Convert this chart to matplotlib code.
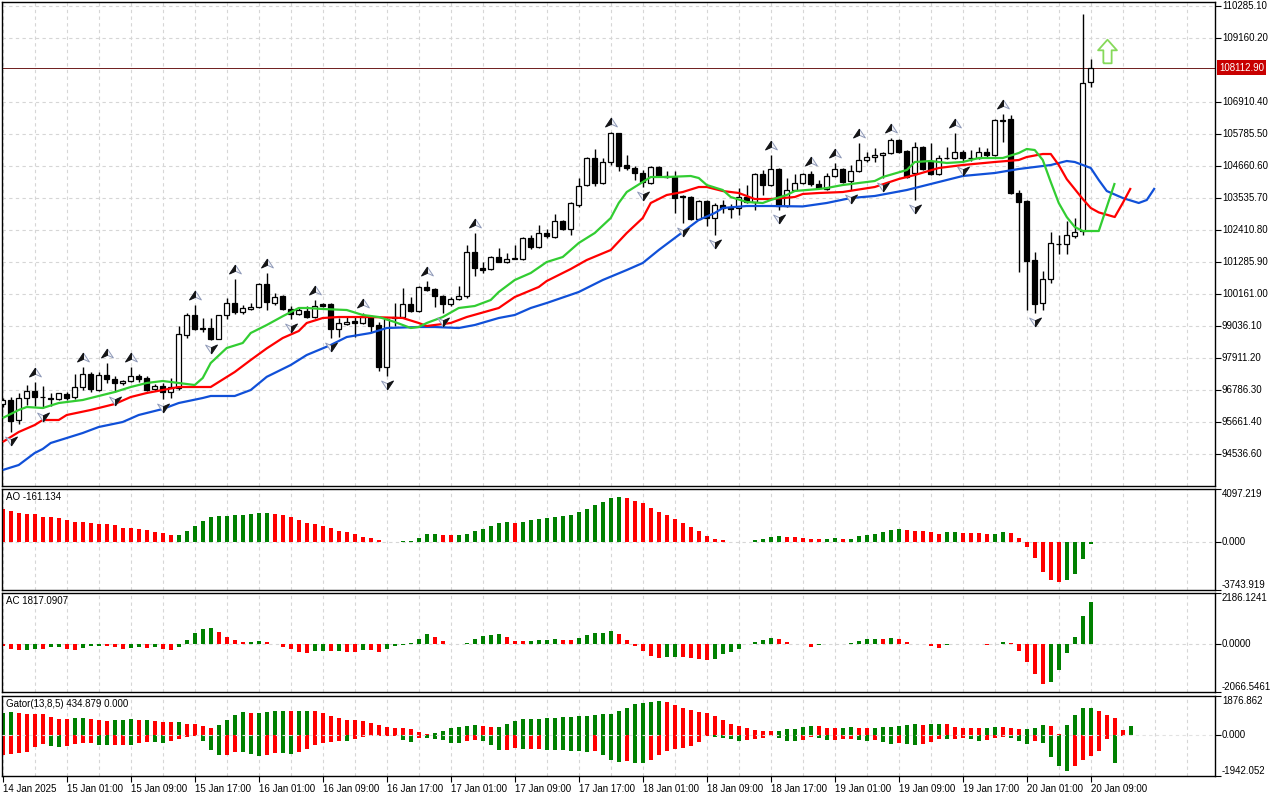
import matplotlib
matplotlib.use("Agg")
import matplotlib.pyplot as plt
import matplotlib.transforms as mtransforms
import numpy as np

plt.rcParams['font.family'] = ['Liberation Sans', 'DejaVu Sans']

# ---------------- data (hourly BTC candles) ----------------
open_px = [96295, 96436, 95733, 96506, 96752, 96541, 96506, 96471, 96647, 96541,
           96893, 97350, 96787, 97315, 97174, 97034, 97104, 97280, 97209, 96823,
           96928, 96717, 96858, 98721, 99424, 98967, 98967, 98580, 99424, 99846,
           99529, 99635, 99705, 100513, 99846, 100092, 99635, 99459, 99564, 99353,
           99810, 99810, 98932, 99125, 99213, 99143, 99353, 99072, 97596, 99318,
           99353, 99810, 99564, 100408, 100338, 100092, 99810, 99986, 100092, 101638,
           101076, 101041, 101462, 101287, 101392, 101392, 102130, 101814, 102306, 102165,
           102728, 102447, 103290, 103993, 104942, 104064, 104802, 105821, 104696, 104591,
           104415, 104064, 104626, 104310, 104274, 103607, 103571, 102798, 103431, 102833,
           103290, 103220, 103185, 103571, 103396, 104380, 103993, 104556, 103255, 103817,
           104064, 104380, 104028, 103853, 104310, 104556, 104134, 104485, 104872, 104977,
           105048, 105118, 105575, 105188, 104415, 105329, 104837, 104380, 104942, 104942,
           105153, 104942, 104942, 105153, 105048, 106278, 106313, 103712, 103431, 101357,
           99846, 100689, 101919, 101919, 102201, 102376, 107614]
high_px = [96506, 96541, 96682, 96963, 97069, 96928, 96682, 96682, 96717, 97350,
           97596, 97420, 97420, 97737, 97280, 97139, 97596, 97350, 97280, 96998,
           97034, 97209, 99037, 99494, 99775, 99318, 99318, 99424, 100021, 100689,
           99775, 99846, 100549, 100900, 100197, 100127, 99740, 99670, 99740, 99951,
           99846, 99846, 99318, 99389, 99353, 99494, 99424, 99178, 99318, 99846,
           100373, 100056, 100443, 100619, 100373, 100127, 100056, 100443, 101884, 102306,
           101287, 101498, 101779, 101603, 101884, 102165, 102236, 102587, 102447, 102974,
           102763, 103396, 104239, 104977, 105259, 104942, 105856, 105821, 105048, 104661,
           104520, 104661, 104661, 104485, 104485, 103642, 103607, 103466, 103466, 103361,
           103466, 103325, 103888, 103993, 104415, 104520, 105048, 104591, 104239, 104380,
           104415, 104485, 104169, 104415, 104767, 104591, 104696, 105470, 105153, 105294,
           105153, 105645, 105610, 105223, 105505, 105364, 105470, 105048, 105329, 105821,
           105223, 105223, 105329, 105294, 106313, 106489, 106454, 103817, 103466, 101638,
           100970, 102341, 102236, 102728, 102833, 110004, 108422]
low_px = [96190, 95311, 95592, 96260, 96225, 96155, 96225, 96436, 96436, 96471,
          96787, 96717, 96752, 97034, 96717, 96963, 97069, 97069, 96752, 96752,
          96471, 96506, 96787, 98615, 98896, 98826, 98545, 98580, 99283, 99459,
          99459, 99599, 99670, 99599, 99775, 99599, 99283, 99424, 99318, 99318,
          99705, 98615, 98650, 99072, 98650, 99107, 98826, 97455, 97280, 99037,
          99318, 99529, 99529, 100267, 99705, 99494, 99740, 99951, 100021, 100795,
          100900, 101005, 101287, 101252, 101375, 101357, 101744, 101779, 102130, 102130,
          102411, 102236, 103220, 103958, 103958, 104028, 104696, 104485, 104520, 104169,
          103923, 104028, 104274, 104239, 103009, 102658, 102763, 102763, 102552, 102236,
          103009, 102833, 102939, 103361, 103114, 103642, 103958, 103114, 103220, 103782,
          104028, 103958, 103853, 103817, 104274, 104064, 103817, 104450, 104802, 104802,
          104239, 105083, 105118, 104239, 103466, 104520, 104345, 104345, 104907, 104907,
          104802, 104837, 104907, 104977, 105013, 105505, 103677, 100935, 99599, 99494,
          99599, 100549, 101568, 101568, 102130, 102236, 107438]
close_px = [96436, 95698, 96506, 96752, 96541, 96524, 96471, 96682, 96506, 96893,
            97350, 96823, 97315, 97174, 97034, 97104, 97280, 97174, 96787, 96928,
            96717, 96893, 98756, 99424, 98932, 98949, 98580, 99424, 99846, 99529,
            99670, 99705, 100513, 99881, 100056, 99635, 99459, 99599, 99353, 99740,
            99740, 98932, 99143, 99178, 99143, 99353, 99037, 97596, 99283, 99353,
            99810, 99564, 100408, 100302, 100092, 99810, 99986, 100092, 101638, 101076,
            101005, 101462, 101287, 101392, 101410, 102130, 101814, 102306, 102201, 102728,
            102447, 103361, 103958, 104942, 104064, 104802, 105821, 104661, 104591, 104415,
            104099, 104626, 104310, 104274, 103536, 103571, 102798, 103431, 102833, 103290,
            103185, 103150, 103571, 103396, 104380, 103993, 104556, 103255, 103817, 104064,
            104380, 104028, 103888, 104310, 104556, 104099, 104485, 104872, 104977, 105048,
            105118, 105575, 105153, 104274, 105329, 104556, 104380, 104942, 104925, 105153,
            104942, 104925, 105153, 105048, 106278, 106260, 103712, 103396, 101322, 99810,
            100689, 101955, 101930, 102236, 102341, 107579, 108112.9]

# Alligator (bar index, value) readings
jaw_bar = [0, 2, 4, 5, 6, 8, 10, 12, 15, 17, 20, 22, 25, 26, 29, 31, 33, 36, 38, 41,
           43, 46, 48, 52, 54, 57, 59, 62, 64, 66, 68, 72, 75, 78, 80, 82, 85, 87, 89, 90,
           93, 96, 100, 103, 106, 109, 113, 118, 120, 124, 127, 129, 131, 133, 134, 136,
           137, 138, 140, 142, 143, 144]
jaw_val = [93975, 94151, 94574, 94714, 94925, 95100, 95276, 95487, 95663, 95909,
           96120, 96330, 96506, 96577, 96577, 96787, 97250, 97666, 98018, 98369,
           98650, 98791, 98967, 99002, 99002, 98967, 99072, 99318, 99424, 99670,
           99846, 100232, 100654, 101005, 101252, 101708, 102341, 102763, 103009, 103185,
           103255, 103255, 103240, 103361, 103536, 103607, 103817, 104169, 104310, 104415,
           104556, 104626, 104696, 104837, 104802, 104591, 104169, 103782, 103536, 103361,
           103466, 103888]
teeth_bar = [0, 2, 4, 5, 7, 8, 11, 14, 16, 18, 20, 22, 26, 27, 29, 31, 33, 35, 37, 38,
             40, 42, 46, 50, 52, 53, 56, 58, 62, 64, 67, 68, 71, 73, 76, 78, 80, 81, 83, 85,
             87, 88, 90, 92, 94, 96, 99, 100, 102, 105, 109, 112, 114, 117, 120, 124, 127,
             128, 130, 131, 132, 133, 135, 136, 137, 139, 140, 141]
teeth_val = [94960, 95311, 95557, 95733, 95733, 95909, 96085, 96295, 96541, 96682,
             96787, 96893, 96893, 97069, 97420, 97842, 98250, 98615, 98861, 99143,
             99318, 99353, 99353, 99318, 99143, 99037, 99143, 99353, 99670, 100056,
             100408, 100619, 101041, 101357, 101708, 102306, 102833, 103361, 103642, 103747,
             103923, 103923, 103782, 103712, 103501, 103501, 103571, 103677, 103712, 103747,
             103923, 104204, 104345, 104591, 104696, 104802, 104872, 104977, 105083, 105083,
             104696, 104200, 103500, 103185, 103030, 102868, 103361, 103888]
lips_bar = [0, 2, 3, 5, 7, 10, 12, 14, 16, 18, 20, 23, 24, 25, 26, 28, 30, 31, 33, 35,
            37, 38, 40, 43, 45, 47, 49, 51, 52, 53, 55, 57, 59, 61, 62, 64, 66, 68, 70, 72,
            74, 76, 77, 78, 80, 81, 83, 86, 87, 88, 90, 91, 93, 95, 96, 98, 99, 102, 103, 105,
            109, 110, 113, 114, 116, 118, 120, 122, 125, 127, 128, 129, 130, 131, 132, 133,
            134, 135, 137, 138, 139]
lips_val = [95803, 96085, 96190, 96155, 96330, 96436, 96577, 96717, 96893, 97034,
            97104, 96998, 96963, 97209, 97737, 98264, 98440, 98791, 99072, 99380,
            99670, 99670, 99635, 99599, 99424, 99353, 99178, 98967, 99002, 99143,
            99353, 99670, 99740, 99951, 100232, 100654, 100900, 101287, 101462, 101955,
            102306, 102833, 103361, 103747, 104099, 104274, 104274, 104310, 104239, 103993,
            103817, 103571, 103396, 103361, 103466, 103642, 103782, 103853, 103888, 103993,
            104134, 104274, 104520, 104802, 104837, 104767, 104802, 104942, 104942, 105118,
            105259, 105223, 104872, 104099, 103361, 102868, 102517, 102376, 102376, 103220,
            104064]

fractal_up = [4, 10, 13, 16, 24, 29, 33, 39, 45, 53, 59, 76, 96, 101, 104, 107, 111, 119, 125]
fractal_dn = [1, 5, 14, 20, 26, 36, 41, 48, 55, 80, 85, 89, 97, 106, 110, 114, 120, 129]
signal_bar = [138]
signal_price = [108703]
current_price = 108112.9

ao_vals = [2536, 2405, 2251, 2172, 2121, 1940, 1935, 1862, 1682, 1552,
           1545, 1475, 1396, 1380, 1319, 1086, 1077, 983, 932, 776,
           699, 543, 552, 853, 1242, 1629, 1940, 2018, 2025, 2095,
           2099, 2172, 2251, 2255, 2172, 2095, 1940, 1708, 1475, 1396,
           1242, 1086, 853, 776, 620, 388, 310, 156, 14, 18,
           26, 77, 310, 620, 626, 543, 534, 552, 620, 853,
           1009, 1242, 1475, 1552, 1475, 1556, 1708, 1785, 1862, 1940,
           2018, 2095, 2328, 2561, 2871, 3104, 3414, 3492, 3414, 3181,
           3027, 2638, 2328, 2095, 1785, 1475, 1164, 853, 466, 233,
           156, 18, -15, 9, 156, 233, 388, 466, 388, 382,
           310, 233, 226, 235, 310, 233, 239, 466, 543, 620,
           776, 932, 1009, 932, 853, 847, 776, 620, 776, 782,
           699, 690, 686, 620, 626, 776, 699, 310, -388, -1242,
           -2328, -2948, -3104, -2948, -2484, -1319, -161.134]
ac_vals = [-92, -215, -258, -248, -215, -221, -144, -115, -215, -258,
           -157, -110, -83, -92, -115, -215, -157, -115, -157, -152,
           -215, -258, -115, 172, 487, 644, 702, 515, 301, 172,
           86, 92, 129, 86, -9, -115, -215, -329, -386, -301,
           -294, -304, -299, -329, -336, -258, -267, -344, -215, -72,
           -28, 43, 215, 430, 301, 129, 9, -5, 43, 215,
           344, 386, 430, 301, 129, 124, 133, 172, 175, 215,
           172, 166, 258, 386, 473, 478, 558, 430, 172, -100,
           -301, -501, -602, -558, -552, -561, -602, -644, -687, -644,
           -430, -344, -215, -15, 86, 172, 258, 215, 86, -5,
           -15, -129, -57, -10, -5, -10, 43, 129, 215, 218,
           210, 258, 215, 86, 5, -5, -100, -172, -43, 10,
           0, -5, -8, -57, 0, 86, 43, -301, -759, -1274,
           -1704, -1618, -1103, -387, 301, 1203, 1817.0907]
gator_up = [1050, 1095, 1047, 1014, 1010, 1005, 869, 773, 770, 821,
            825, 773, 725, 676, 725, 730, 773, 725, 730, 676,
            628, 625, 630, 531, 525, 435, 338, 483, 725, 966,
            1095, 1063, 1080, 1100, 1159, 1165, 1160, 1165, 1170, 1160,
            1063, 918, 821, 725, 720, 676, 580, 483, 386, 338,
            335, 300, 161, 64, 113, 209, 370, 419, 467, 499,
            451, 403, 410, 547, 692, 789, 795, 800, 837, 842,
            886, 890, 934, 938, 982, 1030, 1035, 1175, 1320, 1513,
            1562, 1610, 1658, 1610, 1465, 1320, 1224, 1127, 1079, 934,
            741, 547, 451, 354, 258, 209, 205, 215, 306, 310,
            403, 451, 445, 354, 350, 355, 403, 354, 350, 355,
            403, 405, 451, 499, 547, 499, 547, 550, 545, 403,
            354, 350, 345, 350, 403, 400, 354, 306, 310, 354,
            483, 451, 48, 483, 966, 1304, 1310, 1159, 966, 821,
            241, 434.879]
gator_dn = [-934, -869, -865, -805, -580, -435, -515, -580, -515, -435,
            -386, -380, -451, -467, -462, -458, -465, -386, -306, -338,
            -386, -274, -161, -64, -32, -274, -708, -950, -945, -805,
            -810, -869, -998, -950, -837, -840, -869, -805, -676, -467,
            -386, -338, -290, -295, -161, -64, -32, -30, -28, -25,
            -209, -322, -113, -115, -161, -209, -354, -360, -274, -209,
            -274, -451, -692, -690, -596, -644, -640, -636, -692, -695,
            -698, -741, -745, -789, -741, -934, -1175, -1272, -1224, -1320,
            -1325, -1175, -934, -741, -644, -596, -499, -306, -16, -64,
            -113, -161, -258, -209, -161, -113, -32, -113, -258, -262,
            -209, -97, -113, -209, -205, -161, -158, -209, -258, -209,
            -306, -403, -354, -403, -451, -403, -306, -161, -165, -160,
            -113, -161, -258, -209, -113, -80, -113, -258, -403, -258,
            -370, -1050, -1475, -1715, -1481, -1159, -966, -725, -193, -1304,
            -20, 0]

price_ticks = [110285.10, 109160.20, 106910.40, 105785.50, 104660.60, 103535.70,
               102410.80, 101285.90, 100161.00, 99036.10, 97911.20, 96786.30,
               95661.40, 94536.60]
price_tick_labels = ["110285.10", "109160.20", "106910.40", "105785.50", "104660.60",
                     "103535.70", "102410.80", "101285.90", "100161.00", "99036.10",
                     "97911.20", "96786.30", "95661.40", "94536.60"]
ao_ticks = [4097.219, 0.0, -3743.919]
ao_tick_labels = ["4097.219", "0.000", "-3743.919"]
ac_ticks = [2186.1241, 0.0, -2066.5461]
ac_tick_labels = ["2186.1241", "0.0000", "-2066.5461"]
gator_ticks = [1876.862, 0.0, -1942.052]
gator_tick_labels = ["1876.862", "0.000", "-1942.052"]
time_bars = list(range(0, 137, 8))
time_labels = ["14 Jan 2025", "15 Jan 01:00", "15 Jan 09:00", "15 Jan 17:00",
               "16 Jan 01:00", "16 Jan 09:00", "16 Jan 17:00", "17 Jan 01:00",
               "17 Jan 09:00", "17 Jan 17:00", "18 Jan 01:00", "18 Jan 09:00",
               "18 Jan 17:00", "19 Jan 01:00", "19 Jan 09:00", "19 Jan 17:00",
               "20 Jan 01:00", "20 Jan 09:00"]

# ---------------- figure ----------------
W, H = 1280, 800
fig = plt.figure(figsize=(W / 100, H / 100), dpi=100)
fig.patch.set_facecolor('white')


def px_axes(top, bottom, left=2, right=1215):
    return fig.add_axes([left / W, 1 - bottom / H, (right - left) / W, (bottom - top) / H])


ax_p = px_axes(2, 486)
ax_ao = px_axes(489, 590)
ax_ac = px_axes(593, 692)
ax_g = px_axes(696, 776)
axes = [ax_p, ax_ao, ax_ac, ax_g]

GRID = '#d6d6d6'
GREEN = '#008000'
RED = '#ff0000'
XMIN, XMAX = -0.09, 151.53
FS = 7

for ax in axes:
    ax.set_xlim(XMIN, XMAX)
    ax.set_facecolor('white')
    for s in ax.spines.values():
        s.set_linewidth(1.0)
        s.set_color('black')
    for b in range(0, 152, 4):
        ax.axvline(b, color=GRID, lw=0.8, ls=(0, (3, 3)), zorder=0)
    ax.tick_params(axis='x', bottom=False, labelbottom=False)

off_lbl = mtransforms.ScaledTranslation(7 / 100, 0, fig.dpi_scale_trans)


def right_labels(ax, vals, labels, vas):
    ax.yaxis.tick_right()
    ax.set_yticks(vals)
    ax.set_yticklabels([])
    ax.tick_params(axis='y', length=4, width=0.8, color='black', left=False)
    tr = mtransforms.blended_transform_factory(ax.transAxes, ax.transData) + off_lbl
    for v, s, va in zip(vals, labels, vas):
        ax.text(1.0, v, s, transform=tr, ha='left', va=va, fontsize=FS, clip_on=False)


# ---------------- price panel ----------------
o = np.array(open_px, float)
h = np.array(high_px, float)
l = np.array(low_px, float)
c = np.array(close_px, float)
bars = np.arange(len(c))

ax_p.set_ylim(93413, 110426)
for v in price_ticks:
    ax_p.axhline(v, color=GRID, lw=0.8, ls=(0, (3, 3)), zorder=0)
right_labels(ax_p, price_ticks, price_tick_labels, ['center'] * len(price_ticks))

ax_p.vlines(bars, l, h, color='black', lw=1.0, zorder=3)
bull = c >= o
ax_p.bar(bars, np.abs(c - o), bottom=np.minimum(o, c), width=0.62,
         color=np.where(bull, 'white', 'black'), edgecolor='black', linewidth=0.9, zorder=4)

ax_p.plot(jaw_bar, jaw_val, color='#1050d8', lw=1.6, zorder=5, solid_capstyle='butt')
ax_p.plot(teeth_bar, teeth_val, color='#ff0000', lw=1.6, zorder=5, solid_capstyle='butt')
ax_p.plot(lips_bar, lips_val, color='#32cd32', lw=1.6, zorder=5, solid_capstyle='butt')

# fractal arrowheads: light outline with one dark half
up_full = [(0, 0.75), (1, -0.75), (0, -0.3), (-1, -0.75), (0, 0.75)]
up_half = [(0, 0.75), (0, -0.3), (-1, -0.75), (0, 0.75)]
dn_full = [(x, -y) for x, y in up_full]
dn_half = [(-x, -y) for x, y in up_half]
tr_up = ax_p.transData + mtransforms.ScaledTranslation(0, 10 / 100, fig.dpi_scale_trans)
tr_dn = ax_p.transData + mtransforms.ScaledTranslation(0, -9 / 100, fig.dpi_scale_trans)
for mk, face, edge in [(up_full, '#f4f4f8', '#8f9ab8'), (up_half, '#141414', '#141414')]:
    ax_p.plot(fractal_up, h[fractal_up], ls='none', marker=mk, ms=8.5,
              mfc=face, mec=edge, mew=0.7, transform=tr_up, zorder=6)
for mk, face, edge in [(dn_full, '#f4f4f8', '#8f9ab8'), (dn_half, '#141414', '#141414')]:
    ax_p.plot(fractal_dn, l[fractal_dn], ls='none', marker=mk, ms=8.5,
              mfc=face, mec=edge, mew=0.7, transform=tr_dn, zorder=6)

arrow_marker = [(-0.35, -1), (0.35, -1), (0.35, 0.1), (0.8, 0.1), (0, 1),
                (-0.8, 0.1), (-0.35, 0.1), (-0.35, -1)]
ax_p.plot(signal_bar, signal_price, ls='none', marker=arrow_marker, ms=17,
          mfc='white', mec='#86d95a', mew=1.3, zorder=6)

ax_p.axhline(current_price, color='#6e1c1c', lw=0.7, zorder=2)
tr_cp = mtransforms.blended_transform_factory(ax_p.transAxes, ax_p.transData) + \
    mtransforms.ScaledTranslation(4 / 100, 0, fig.dpi_scale_trans)
ax_p.text(1.0, current_price, f"{current_price:.2f}", transform=tr_cp, ha='left', va='center',
          fontsize=FS, color='white', clip_on=False, zorder=10,
          bbox=dict(boxstyle='square,pad=0.25', fc='#c80000', ec='none'))


# ---------------- indicator panels ----------------
def colors_by_value(vals, first):
    cols = [first]
    for i in range(1, len(vals)):
        cols.append(GREEN if vals[i] > vals[i - 1] else RED)
    return cols


def colors_by_abs(vals, first):
    cols = [first]
    for i in range(1, len(vals)):
        cols.append(GREEN if abs(vals[i]) > abs(vals[i - 1]) else RED)
    return cols


lbl_off = mtransforms.ScaledTranslation(4 / 100, -3 / 100, fig.dpi_scale_trans)

# AO
ax_ao.set_ylim(ao_ticks[-1], ao_ticks[0])
ax_ao.axhline(0, color=GRID, lw=0.8, ls=(0, (3, 3)), zorder=0)
ax_ao.bar(np.arange(len(ao_vals)), ao_vals, width=0.55,
          color=colors_by_value(ao_vals, RED), linewidth=0, zorder=2)
right_labels(ax_ao, ao_ticks, ao_tick_labels, ['top', 'center', 'bottom'])
ax_ao.text(0, 1, f"AO {ao_vals[-1]:.3f}", transform=ax_ao.transAxes + lbl_off,
           ha='left', va='top', fontsize=FS)

# AC
ax_ac.set_ylim(ac_ticks[-1], ac_ticks[0])
ax_ac.axhline(0, color=GRID, lw=0.8, ls=(0, (3, 3)), zorder=0)
ax_ac.bar(np.arange(len(ac_vals)), ac_vals, width=0.55,
          color=colors_by_value(ac_vals, RED), linewidth=0, zorder=2)
right_labels(ax_ac, ac_ticks, ac_tick_labels, ['top', 'center', 'bottom'])
ax_ac.text(0, 1, f"AC {ac_vals[-1]:.4f}", transform=ax_ac.transAxes + lbl_off,
           ha='left', va='top', fontsize=FS)

# Gator
ax_g.set_ylim(gator_ticks[-1], gator_ticks[0])
gx = np.arange(len(gator_up))
ax_g.bar(gx, gator_up, width=0.55, color=colors_by_abs(gator_up, GREEN), linewidth=0, zorder=2)
ax_g.bar(gx, gator_dn, width=0.55, color=colors_by_abs(gator_dn, RED), linewidth=0, zorder=2)
ax_g.axhline(0, color='#e2e2e2', lw=0.8, ls=(0, (3, 3)), zorder=3)
right_labels(ax_g, gator_ticks, gator_tick_labels, ['top', 'center', 'bottom'])
ax_g.text(0, 1, f"Gator(13,8,5) {gator_up[-1]:.3f} {gator_dn[-1]:.3f}",
          transform=ax_g.transAxes + lbl_off, ha='left', va='top', fontsize=FS)

ax_g.set_xticks(time_bars)
ax_g.set_xticklabels(time_labels, ha='left', fontsize=FS)
ax_g.tick_params(axis='x', bottom=True, labelbottom=True, length=4, width=0.8, pad=2)

fig.savefig("out.png", dpi=100, facecolor='white')
